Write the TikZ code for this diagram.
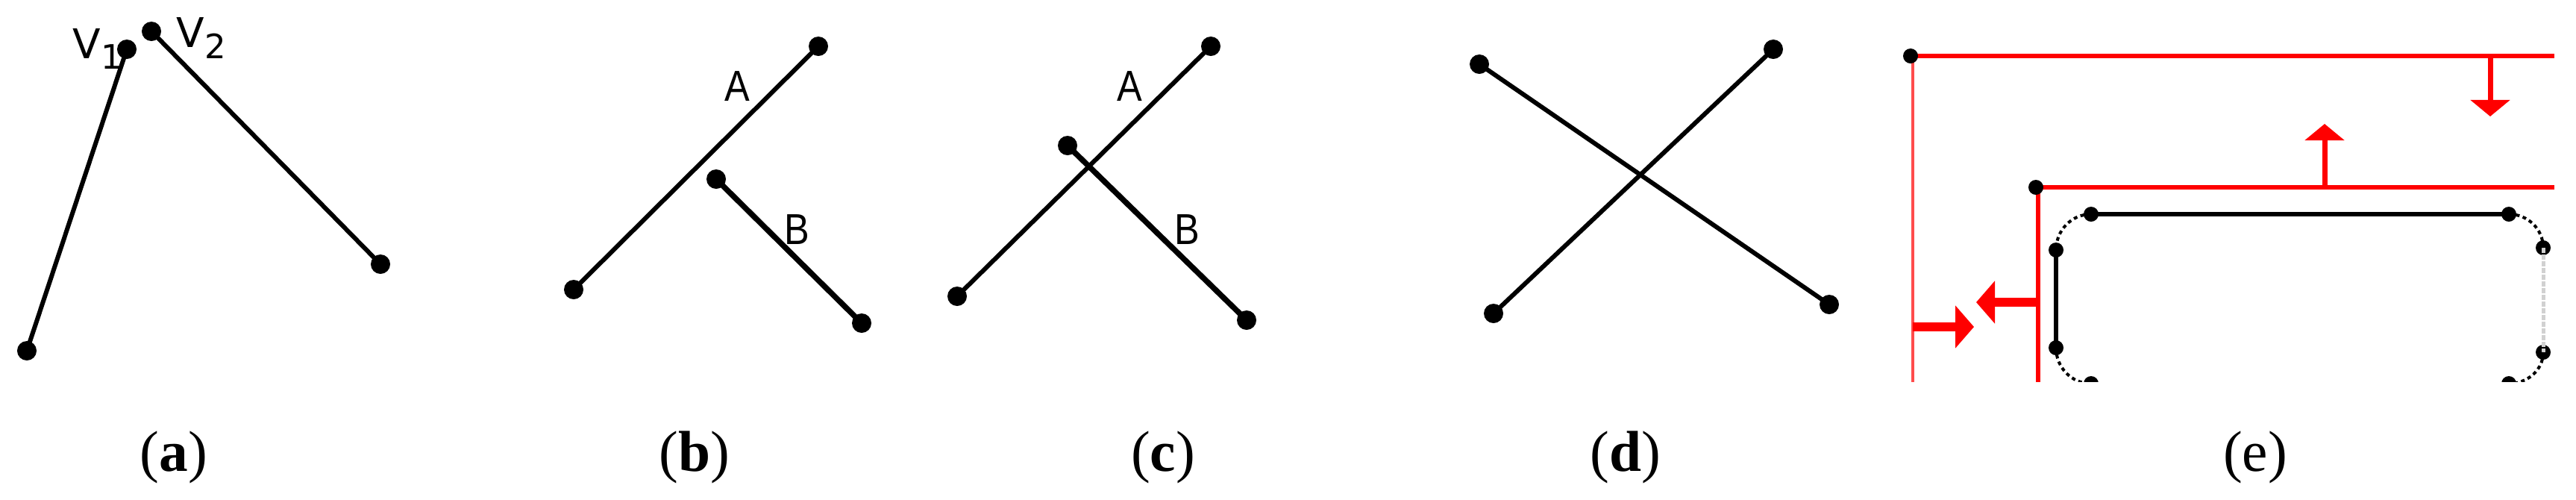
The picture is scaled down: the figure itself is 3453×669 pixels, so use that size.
\documentclass[tikz,border=0pt]{standalone}
\usepackage{fontspec}
\setmainfont{Liberation Serif}
\newfontfamily\labfont{DejaVu Sans}
\newfontfamily\abfont{Liberation Sans}
\usetikzlibrary{arrows.meta}
\begin{document}
\begin{tikzpicture}[x=0.01cm, y=-0.01cm,
  dot/.style={circle, fill=black, inner sep=0pt, minimum size=0.26cm},
  sdot/.style={circle, fill=black, inner sep=0pt, minimum size=0.2cm},
  seg/.style={line width=0.06cm, black},
  thickseg/.style={line width=0.075cm, black},
  caption/.style={anchor=base, inner sep=0pt, font=\fontsize{22}{22}\selectfont},
  vlab/.style={anchor=base west, inner sep=0pt, font=\labfont\fontsize{15.6}{16}\selectfont},
  ablab/.style={anchor=base, inner sep=0pt, xscale=0.87, font=\abfont\fontsize{16.5}{17}\selectfont},
  redline/.style={line width=0.055cm, red},
  paleredline/.style={line width=0.04cm, red!70},
  harrow/.style={line width=0.12cm, red, -{Triangle[width=0.56cm, length=0.25cm]}},
  varrow/.style={line width=0.07cm, red, -{Triangle[width=0.52cm, length=0.22cm]}},
  blackside/.style={line width=0.06cm, black},
  cornerarc/.style={line width=0.04cm, black, dash pattern=on 0.05cm off 0.045cm},
  greyside/.style={line width=0.05cm, black!18, dash pattern=on 0.07cm off 0.02cm}
]
\useasboundingbox (0,0) rectangle (3453,669);
\fill[white] (0,0) rectangle (3453,669);

% ---------- (a)
\node[dot] (a1) at (36,470) {};
\node[dot] (a2) at (170,66) {};
\node[dot] (a3) at (203,42) {};
\node[dot] (a4) at (510,354) {};
\draw[seg] (a1.center) -- (a2.center);
\draw[seg] (a3.center) -- (a4.center);
\node[vlab] (lv1) at (97,78) {V\raisebox{-0.14cm}{\fontsize{12.8}{13}\selectfont 1}};
\node[vlab] (lv2) at (236,63) {V\raisebox{-0.15cm}{\fontsize{12.8}{13}\selectfont 2}};
\node[caption] (capa) at (233,631) {(\textbf{a})};

% ---------- (b)
\node[dot] (b1) at (769,388) {};
\node[dot] (b2) at (1097,62) {};
\node[dot] (b3) at (960,240) {};
\node[dot] (b4) at (1155,433) {};
\draw[seg] (b1.center) -- (b2.center);
\draw[thickseg] (b3.center) -- (b4.center);
\node[ablab] (lba) at (988,135) {A};
\node[ablab] (lbb) at (1068,327) {B};
\node[caption] (capb) at (931,631) {(\textbf{b})};

% ---------- (c)
\node[dot] (c1) at (1283,397) {};
\node[dot] (c2) at (1623,62) {};
\node[dot] (c3) at (1431,195) {};
\node[dot] (c4) at (1671,429) {};
\draw[seg] (c1.center) -- (c2.center);
\draw[thickseg] (c3.center) -- (c4.center);
\node[ablab] (lca) at (1514,135) {A};
\node[ablab] (lcb) at (1591,327) {B};
\node[caption] (capc) at (1559,631) {(\textbf{c})};

% ---------- (d)
\node[dot] (d1) at (1983,86) {};
\node[dot] (d2) at (2452,408) {};
\node[dot] (d3) at (2002,420) {};
\node[dot] (d4) at (2377,66) {};
\draw[seg] (d1.center) -- (d2.center);
\draw[seg] (d3.center) -- (d4.center);
\node[caption] (capd) at (2179,631) {(\textbf{d})};

% ---------- (e)
\begin{scope}
\clip (2500,0) rectangle (3453,511);
% outer red bound
\coordinate (o1) at (3424,75);
\coordinate (o2) at (2564,520);
\coordinate (od1) at (3338,75);
\coordinate (od2) at (3338,156);
\coordinate (or1) at (2564,438);
\coordinate (or2) at (2646,438);
\draw[paleredline] (2564,75) -- (o2);
% inner red bound
\coordinate (i1) at (3424,251);
\coordinate (i2) at (2732,520);
\coordinate (iu1) at (3116,251);
\coordinate (iu2) at (3116,166);
\coordinate (il1) at (2732,405);
\coordinate (il2) at (2649,405);
\draw[redline] (2732,251) -- (i2);
\draw[redline] (2561,75) -- (o1);
\draw[redline] (2729,251) -- (i1);
\draw[varrow] (od1) -- (od2);
\draw[varrow] (iu1) -- (iu2);
\draw[harrow] (or1) -- (or2);
\draw[harrow] (il1) -- (il2);
\node[sdot] (oc) at (2561,75) {};
\node[sdot] (ic) at (2729,251) {};
% rounded rectangle
\node[sdot] (rt1) at (2803,287) {};
\node[sdot] (rt2) at (3363,287) {};
\node[sdot] (rl1) at (2756,335) {};
\node[sdot] (rl2) at (2756,466) {};
\node[sdot] (rr1) at (3409,332) {};
\node[sdot] (rr2) at (3409,472) {};
\node[sdot] (rb1) at (2803,514) {};
\node[sdot] (rb2) at (3363,514) {};
\draw[blackside] (rt1.center) -- (rt2.center);
\draw[blackside] (rl1.center) -- (rl2.center);
\draw[greyside] (rr1.center) -- (rr2.center);
\draw[cornerarc] (rt1.center) to[out=180, in=90] (rl1.center);
\draw[cornerarc] (rl2.center) to[out=-90, in=180] (rb1.center);
\draw[cornerarc] (rt2.center) to[out=0, in=90] (rr1.center);
\draw[cornerarc] (rr2.center) to[out=-90, in=0] (rb2.center);
\end{scope}
\node[caption] (cape) at (3023,631) {(e)};
\end{tikzpicture}
\end{document}
